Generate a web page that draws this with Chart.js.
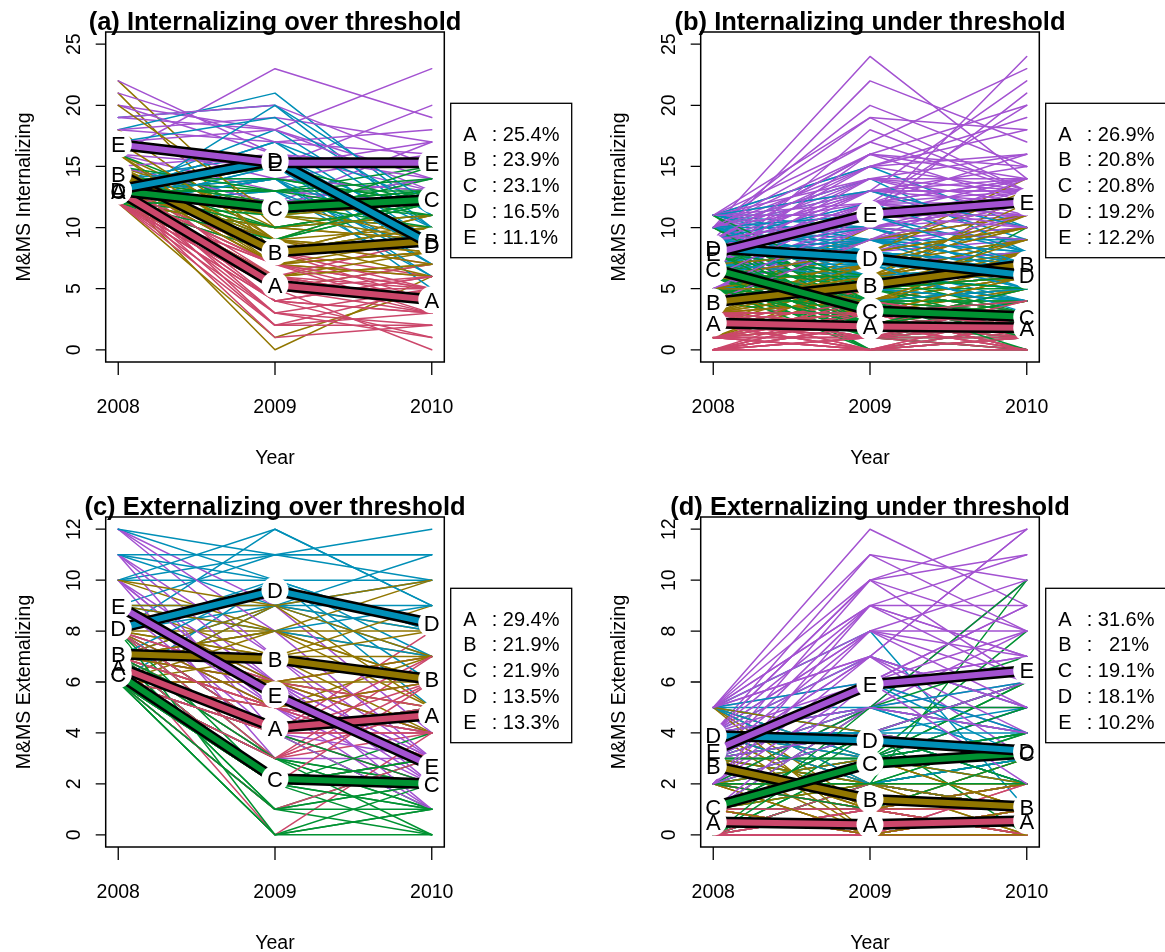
<!DOCTYPE html>
<html>
<head>
<meta charset="utf-8">
<script src="https://cdn.jsdelivr.net/npm/chart.js@4.4.1/dist/chart.umd.min.js"></script>
<style>
html,body{margin:0;padding:0;background:#fff;}
#wrap{position:relative;width:1165px;height:952px;overflow:hidden;background:#fff;}
canvas{position:absolute;display:block;}
</style>
</head>
<body>
<div id="wrap">
<canvas id="pa" width="595" height="485" style="left:0px;top:0px;"></canvas>
<canvas id="pb" width="570" height="485" style="left:595px;top:0px;"></canvas>
<canvas id="pc" width="595" height="467" style="left:0px;top:485px;"></canvas>
<canvas id="pd" width="570" height="467" style="left:595px;top:485px;"></canvas>
</div>
<script>
// ---------- shared categories / labels ----------
const years = [2008, 2009, 2010];
const xTickLabels = ['2008', '2009', '2010'];
const clusterLetters = ['A', 'B', 'C', 'D', 'E'];
const clusterColors = ['#CC476B', '#917600', '#009232', '#008FB7', '#A352D1'];
const yTicksInt = [0, 5, 10, 15, 20, 25];
const yTicksExt = [0, 2, 4, 6, 8, 10, 12];

// ---------- (a) Internalizing over threshold ----------
const intOverA = [[12,5,4],[13,6,5],[12,3,2],[14,7,5],[13,4,3],[12,8,6],[13,5,0],[14,6,4],[12,2,5],[13,9,7],[12,4,1],[15,5,4],[13,7,6],[12,6,3],[14,3,5],[13,1,2],[12,5,7],[13,8,4],[14,4,6],[12,6,9],[13,2,3],[12,7,5],
  [13,6,4],[12,4,3],[14,5,6],[13,3,1],[12,7,4],[13,5,3],[14,8,5],[12,5,5],[13,4,6],[12,6,4],[14,2,2],[13,7,3]];
const intOverB = [[13,0,6],[12,1,5],[22,10,9],[21,8,11],[14,7,8],[15,9,10],[13,6,7],[14,8,9],[16,10,12],[13,7,8],[15,11,10],[14,5,7],[18,9,8],[13,8,11],[14,12,9],[13,6,8],[15,9,13],[14,7,6],[12,10,9],[16,8,10],[13,9,7],
  [14,9,8],[15,7,9],[13,10,11],[20,11,9],[12,6,7],[14,8,10],[17,9,6],[13,11,12],[16,7,8],[15,8,9]];
const intOverC = [[12,11,12],[13,12,13],[14,10,11],[12,13,12],[13,9,12],[15,12,14],[12,14,13],[13,11,10],[14,13,15],[12,10,12],[13,12,11],[16,11,13],[12,8,10],[13,14,12],[14,12,13],[12,11,14],[13,15,12],[12,10,11],[13,12,13],[14,9,12],
  [13,13,14],[12,12,12],[14,11,13],[13,10,12],[15,13,11],[12,9,13],[13,11,15],[14,14,12],[12,12,10],[13,13,13]];
const intOverD = [[12,15,8],[13,16,9],[12,14,7],[19,20,10],[13,17,9],[12,13,6],[18,21,11],[13,15,8],[12,14,5],[14,16,10],[12,14,9],[13,17,12],[12,15,7],[13,13,8],
  [13,18,10],[12,16,9],[17,19,11],[13,14,6],[12,20,12],[14,15,8]];
const intOverE = [[16,23,19],[20,18,23],[17,15,20],[22,16,13],[15,12,17],[19,18,14],[14,14,16],[16,13,12],[18,17,18],[20,16,15],[15,12,14],[17,14,13],
  [18,19,17],[21,17,16],[15,16,14],[19,20,15],[16,15,17],[17,18,13]];
const intOverMeans = [[13.0,5.3,4.1],[14.4,8.0,8.9],[13.0,11.6,12.3],[13.1,15.5,8.6],[16.8,15.3,15.3]];
const intOverPct = ['25.4%','23.9%','23.1%','16.5%','11.1%'];

// ---------- (b) Internalizing under threshold ----------
const intUnderA = [[0,0,0],[1,0,1],[2,1,0],[3,2,1],[0,1,2],[1,2,3],[2,3,2],[3,1,0],[0,2,1],[1,3,2],[2,0,3],[3,3,3],[0,3,0],[1,1,4],[2,2,2],[3,0,2],[0,1,3],[1,4,1],[2,2,5],[3,2,2],[1,0,2],[2,4,3],[0,2,4],[3,3,1],[1,1,0],[2,1,1],[0,0,2],[3,4,2],[1,2,1],[2,3,4],[3,1,3],[0,4,1],[2,5,3],[1,3,0],
  [0,1,1],[1,2,0],[2,0,1],[3,3,2],[0,2,2],[1,0,3],[2,3,0],[3,1,1],[0,3,3],[1,1,2],[2,2,1],[3,2,3],[0,0,1],[1,3,3],[2,1,2],[3,0,1],[0,2,0],[1,2,2],[2,4,2],[3,3,4],[1,0,0],[2,0,0],[0,1,4],[3,2,0],[1,4,2],[2,2,3],[0,3,2],[3,1,2],[1,1,3],[2,3,3]];
const intUnderB = [[3,5,7],[4,6,8],[2,4,6],[5,7,9],[1,3,5],[6,8,10],[3,4,6],[4,5,7],[2,6,8],[5,4,5],[7,9,12],[3,6,9],[4,3,6],[1,5,7],[6,7,8],[2,3,4],[5,6,11],[3,7,7],[4,4,5],[6,5,6],[2,2,5],[5,8,14],[3,5,13],[4,10,9],[1,4,6],[6,6,7],[3,2,4],[4,7,10],
  [2,5,6],[3,3,5],[4,6,9],[5,5,8],[6,9,11],[1,2,4],[3,8,10],[4,4,7],[2,7,9],[5,3,6],[6,4,8],[7,6,9],[3,6,12],[4,9,11],[2,4,7],[5,7,10],[1,6,8],[6,8,13],[3,4,8],[4,5,6],[7,8,10],[2,3,6],[5,5,9],[3,7,11],[4,6,6]];
const intUnderC = [[6,3,2],[7,4,3],[5,2,1],[8,3,3],[6,1,2],[9,4,4],[5,3,0],[7,2,3],[6,5,4],[4,3,2],[8,2,1],[7,0,2],[6,4,5],[10,5,3],[5,1,1],[7,3,4],[6,2,2],[8,4,3],[9,6,4],[5,4,2],[7,1,0],[6,3,3],[8,5,5],[4,2,1],[7,3,10],[6,0,1],[5,5,3],[9,3,2],
  [6,2,3],[7,3,2],[5,4,3],[8,1,1],[9,2,3],[10,4,2],[11,3,4],[6,4,1],[7,5,3],[8,3,4],[5,0,0],[6,1,3],[9,5,2],[4,4,4],[7,2,5],[8,6,3],[10,3,3],[5,3,2],[6,2,4],[9,1,2],[7,4,0],[8,2,2],[11,5,6],[6,6,5],[5,2,3]];
const intUnderD = [[8,7,6],[9,8,7],[7,6,5],[10,9,8],[6,5,4],[11,10,6],[8,6,5],[9,7,6],[7,8,7],[10,13,9],[8,9,5],[6,4,3],[11,15,10],[9,6,4],[7,7,8],[8,5,6],[10,8,7],[5,6,5],[9,10,6],[8,7,4],[7,5,6],[10,14,8],[6,7,7],[9,6,5],[8,8,6],[11,9,9],
  [7,7,6],[8,8,5],[9,9,7],[10,7,6],[11,11,8],[6,6,6],[8,10,7],[9,5,4],[7,9,6],[10,10,9],[5,5,4],[8,6,7],[11,8,6],[9,12,8],[6,8,5],[7,6,4],[10,6,5],[8,9,8],[9,8,7],[11,13,10],[7,4,5],[6,9,7],[8,7,3],[10,11,7]];
const intUnderE = [[8,11,12],[9,13,14],[7,10,11],[10,24,14],[6,9,10],[11,15,16],[8,12,13],[5,8,9],[9,22,17],[7,11,24],[10,19,18],[8,10,12],[6,12,11],[11,17,23],[9,14,13],[7,9,10],[10,20,15],[8,13,22],[4,7,8],[9,16,14],[11,12,20],[7,18,13],[8,11,21],[10,15,19],[6,10,12],[9,12,16],[8,14,11],[11,13,15],[5,9,14],[10,16,12],
  [7,12,12],[8,10,13],[9,11,12],[10,12,11],[6,11,13],[11,14,12],[8,9,11],[9,13,12],[10,11,14],[7,13,10],[5,10,12],[8,15,13],[9,10,9],[10,13,13],[6,8,11],[11,11,12],[7,14,14],[8,12,10],[9,15,18],[4,9,12],[10,17,13],[7,16,15],[11,19,13],[8,13,13],[9,11,10],[6,12,14],[10,14,16],[5,11,11],[9,16,20],[8,12,14]];
const intUnderMeans = [[2.2,1.9,1.8],[3.9,5.3,7.0],[6.6,3.2,2.7],[8.3,7.5,6.1],[7.9,11.1,12.1]];
const intUnderPct = ['26.9%','20.8%','20.8%','19.2%','12.2%'];

// ---------- (c) Externalizing over threshold ----------
const extOverA = [[6,4,5],[7,5,6],[6,3,4],[8,4,5],[6,5,3],[7,3,7],[6,6,4],[7,4,8],[6,2,3],[8,5,6],[6,4,2],[7,0,4],[6,3,5],[7,5,4],[6,4,6],[8,3,5],[6,1,3],[7,6,7],[6,4,4],
  [7,4,5],[6,5,4],[7,2,6],[8,6,5],[6,3,6],[7,5,3],[6,4,7],[8,4,4]];
const extOverB = [[7,7,6],[8,8,7],[6,6,5],[7,9,8],[10,8,6],[6,7,4],[8,6,5],[7,5,7],[9,7,6],[6,8,10],[7,6,4],[8,7,9],[6,9,5],[7,8,6],[9,6,7],[6,5,4],[7,7,8],
  [8,7,7],[7,8,5],[9,8,8],[6,6,7],[10,9,7],[7,6,6],[8,5,6],[9,9,10]];
const extOverC = [[6,2,2],[7,3,1],[6,1,2],[6,0,0],[7,2,3],[6,3,2],[8,4,1],[6,1,0],[7,2,4],[6,0,2],[6,3,1],[7,1,3],[6,2,0],[8,3,2],[6,4,5],[7,2,1],[6,0,1],
  [7,1,2],[6,2,1],[8,2,3],[7,3,0],[6,1,1],[7,4,2],[6,2,3],[8,0,1]];
const extOverD = [[8,10,8],[7,9,9],[10,11,10],[6,10,7],[11,9,11],[8,12,9],[12,10,6],[7,8,7],[9,11,12],[6,9,8],[10,10,5],[11,11,11],[8,9,7],
  [9,9,10],[10,12,9],[11,10,8],[12,11,11],[7,10,10],[9,8,9]];
const extOverE = [[9,6,3],[10,5,2],[12,7,3],[8,4,2],[11,6,4],[9,5,1],[10,3,3],[7,6,2],[12,9,4],[8,5,3],[11,4,1],
  [10,6,3],[11,7,2],[9,4,3],[12,8,3],[8,6,1],[10,5,4]];
const extOverMeans = [[6.6,4.2,4.7],[7.1,6.9,6.1],[6.3,2.2,2.0],[8.1,9.6,8.3],[9.0,5.5,2.7]];
const extOverPct = ['29.4%','21.9%','21.9%','13.5%','13.3%'];

// ---------- (d) Externalizing under threshold ----------
const extUnderA = [[0,0,0],[1,0,1],[0,1,0],[1,1,1],[0,0,1],[2,1,0],[1,0,0],[0,1,1],[1,1,2],[0,0,2],[2,0,1],[1,1,0],[0,0,0],[1,0,2],
  [0,1,2],[1,0,0],[2,1,1],[0,0,1],[1,1,0],[2,2,1],[0,1,0],[1,0,1],[0,2,1],[2,1,2],[1,0,0],[0,0,0]];
const extUnderB = [[3,1,1],[2,2,0],[4,1,2],[1,0,1],[5,2,1],[3,0,0],[2,1,3],[4,3,1],[3,2,2],[1,1,0],[5,1,1],[2,0,1],[3,4,2],[4,2,0],[2,1,1],
  [3,2,1],[4,0,0],[2,3,1],[5,3,2],[3,1,0],[1,2,1],[4,1,3],[2,0,0],[5,0,1],[3,3,1],[4,2,2],[2,2,1],[5,4,3],[3,1,2],[1,0,0]];
const extUnderC = [[1,3,3],[0,2,4],[2,3,2],[1,4,3],[0,1,2],[3,5,4],[1,2,10],[2,3,3],[0,3,6],[1,1,2],[2,4,0],[0,2,3],[1,3,8],[3,2,1],
  [0,3,4],[1,2,3],[2,5,5],[3,3,6],[1,4,2],[0,2,1],[2,2,4],[1,5,7],[3,4,3],[0,4,2],[2,1,3],[1,3,5],[0,5,10],[3,3,4],[2,2,2],[1,4,6]];
const extUnderD = [[4,4,3],[5,3,4],[3,4,2],[4,5,3],[5,4,5],[3,2,3],[4,3,4],[5,8,1],[4,4,6],[3,3,2],[5,5,3],[2,3,4],[4,2,3],
  [4,3,3],[5,4,2],[3,5,4],[4,7,5],[5,2,3],[3,3,5],[4,4,2],[5,6,4],[2,4,3],[4,5,6],[3,4,4],[5,3,3],[4,2,1],[3,6,3]];
const extUnderE = [[3,6,7],[4,8,6],[2,5,5],[5,12,9],[3,7,12],[4,10,8],[1,4,6],[5,9,11],[3,6,4],[4,11,10],[2,5,8],[5,7,3],[3,10,12],[4,8,7],[1,3,5],[5,6,9],[3,9,6],[4,5,10],[2,7,4],[5,8,8],
  [4,7,5],[3,5,6],[5,10,6],[2,6,7],[4,9,9],[1,5,4],[3,8,10],[5,11,8],[2,4,3],[4,6,8],[3,7,5],[5,9,7],[1,6,9],[4,10,11],[3,4,6],[2,8,5],[5,7,12],[4,5,4],[3,6,2],[2,9,7]];
const extUnderMeans = [[0.5,0.4,0.55],[2.7,1.4,1.1],[1.1,2.8,3.2],[3.9,3.7,3.3],[3.3,5.9,6.45]];
const extUnderPct = ['31.6%','  21%','19.1%','18.1%','10.2%'];

// ---------- drawing ----------
const FONT = '"Liberation Sans", Arial, Helvetica, sans-serif';

const rPlot = {
  id: 'rplot',
  afterDatasetsDraw(chart, args, o) {
    const ctx = chart.ctx, x = chart.scales.x, y = chart.scales.y;
    ctx.save();
    ctx.fillStyle = '#ffffff';
    o.means.forEach(m => m.forEach((v, k) => {
      ctx.beginPath();
      ctx.arc(x.getPixelForValue(years[k]), y.getPixelForValue(v), 13.5, 0, Math.PI * 2);
      ctx.fill();
    }));
    ctx.fillStyle = '#000';
    ctx.font = '22px ' + FONT;
    ctx.textAlign = 'center';
    ctx.textBaseline = 'alphabetic';
    o.means.forEach((m, c) => m.forEach((v, k) => {
      ctx.fillText(clusterLetters[c], x.getPixelForValue(years[k]), y.getPixelForValue(v) + 7.9);
    }));
    ctx.restore();
  },
  afterDraw(chart, args, o) {
    const ctx = chart.ctx, a = chart.chartArea, x = chart.scales.x, y = chart.scales.y;
    ctx.save();
    ctx.strokeStyle = '#000';
    ctx.lineWidth = 1.5;
    ctx.strokeRect(a.left, a.top, a.right - a.left, a.bottom - a.top);
    ctx.lineWidth = 1.3;
    ctx.beginPath();
    years.forEach(v => { const px = x.getPixelForValue(v); ctx.moveTo(px, a.bottom); ctx.lineTo(px, a.bottom + 13); });
    o.yTicks.forEach(v => { const py = y.getPixelForValue(v); ctx.moveTo(a.left, py); ctx.lineTo(a.left - 10, py); });
    ctx.stroke();
    ctx.fillStyle = '#000';
    ctx.font = '19.5px ' + FONT;
    ctx.textAlign = 'center';
    ctx.textBaseline = 'alphabetic';
    years.forEach((v, i) => ctx.fillText(xTickLabels[i], x.getPixelForValue(v), a.bottom + 51));
    o.yTicks.forEach(v => {
      ctx.save();
      ctx.translate(a.left - 25.7, y.getPixelForValue(v));
      ctx.rotate(-Math.PI / 2);
      ctx.fillText(String(v), 0, 0);
      ctx.restore();
    });
    const cx = (a.left + a.right) / 2, cy = (a.top + a.bottom) / 2;
    ctx.fillText('Year', cx, a.bottom + 101.5);
    ctx.save();
    ctx.translate(a.left - 75.7, cy);
    ctx.rotate(-Math.PI / 2);
    ctx.fillText(o.ylab, 0, 0);
    ctx.restore();
    ctx.font = 'bold 25.5px ' + FONT;
    ctx.fillText(o.title, cx, a.top - 2);
    // legend box
    const lx = a.right + 6.4, ly = 103.3;
    ctx.lineWidth = 1.3;
    ctx.strokeRect(lx, ly, 121, 154.4);
    ctx.font = '20px ' + FONT;
    for (let i = 0; i < 5; i++) {
      const by = 140.5 + i * 25.85;
      ctx.textAlign = 'center';
      ctx.fillText(clusterLetters[i], lx + 19.3, by);
      ctx.textAlign = 'left';
      ctx.fillText(': ' + o.pct[i], lx + 41, by);
    }
    ctx.restore();
  }
};

function buildPanel(id, groups, means, pct, yMin, yMax, yTicks, title, ylab) {
  const cv = document.getElementById(id);
  const W = cv.width, H = cv.height;
  const ds = [];
  const maxLen = Math.max(...groups.map(g => g.length));
  for (let i = 0; i < maxLen; i++) {
    for (let c = 0; c < groups.length; c++) {
      const t = groups[c][i];
      if (!t) continue;
      ds.push({
        data: years.map((yr, k) => ({ x: yr, y: t[k] })),
        borderColor: clusterColors[c], borderWidth: 1.5,
        borderCapStyle: 'round', borderJoinStyle: 'round',
        pointRadius: 0, fill: false, tension: 0
      });
    }
  }
  for (let c = 0; c < means.length; c++) {
    const d = years.map((yr, k) => ({ x: yr, y: means[c][k] }));
    ds.push({ data: d, borderColor: '#000', borderWidth: 11, borderCapStyle: 'round', borderJoinStyle: 'round', pointRadius: 0, fill: false, tension: 0 });
    ds.push({ data: d, borderColor: clusterColors[c], borderWidth: 6, borderCapStyle: 'round', borderJoinStyle: 'round', pointRadius: 0, fill: false, tension: 0 });
  }
  const n = ds.length;
  ds.forEach((d, i) => { d.order = n - i; });
  new Chart(cv, {
    type: 'line',
    data: { datasets: ds },
    options: {
      responsive: false, animation: false, events: [],
      devicePixelRatio: 1,
      layout: { padding: { left: 105.7, top: 32, right: W - 444.3, bottom: H - 362 } },
      scales: {
        x: { type: 'linear', min: 2007.92, max: 2010.08, display: false },
        y: { type: 'linear', min: yMin, max: yMax, display: false }
      },
      plugins: {
        legend: { display: false }, tooltip: { enabled: false }, title: { display: false },
        rplot: { means, pct, yTicks, title, ylab }
      }
    },
    plugins: [rPlot]
  });
}

buildPanel('pa', [intOverA, intOverB, intOverC, intOverD, intOverE], intOverMeans, intOverPct, -1, 26, yTicksInt,
  '(a) Internalizing over threshold', 'M&MS Internalizing');
buildPanel('pb', [intUnderA, intUnderB, intUnderC, intUnderD, intUnderE], intUnderMeans, intUnderPct, -1, 26, yTicksInt,
  '(b) Internalizing under threshold', 'M&MS Internalizing');
buildPanel('pc', [extOverA, extOverB, extOverC, extOverD, extOverE], extOverMeans, extOverPct, -0.48, 12.48, yTicksExt,
  '(c) Externalizing over threshold', 'M&MS Extemalizing');
buildPanel('pd', [extUnderA, extUnderB, extUnderC, extUnderD, extUnderE], extUnderMeans, extUnderPct, -0.48, 12.48, yTicksExt,
  '(d) Externalizing under threshold', 'M&MS Extemalizing');
</script>
</body>
</html>
